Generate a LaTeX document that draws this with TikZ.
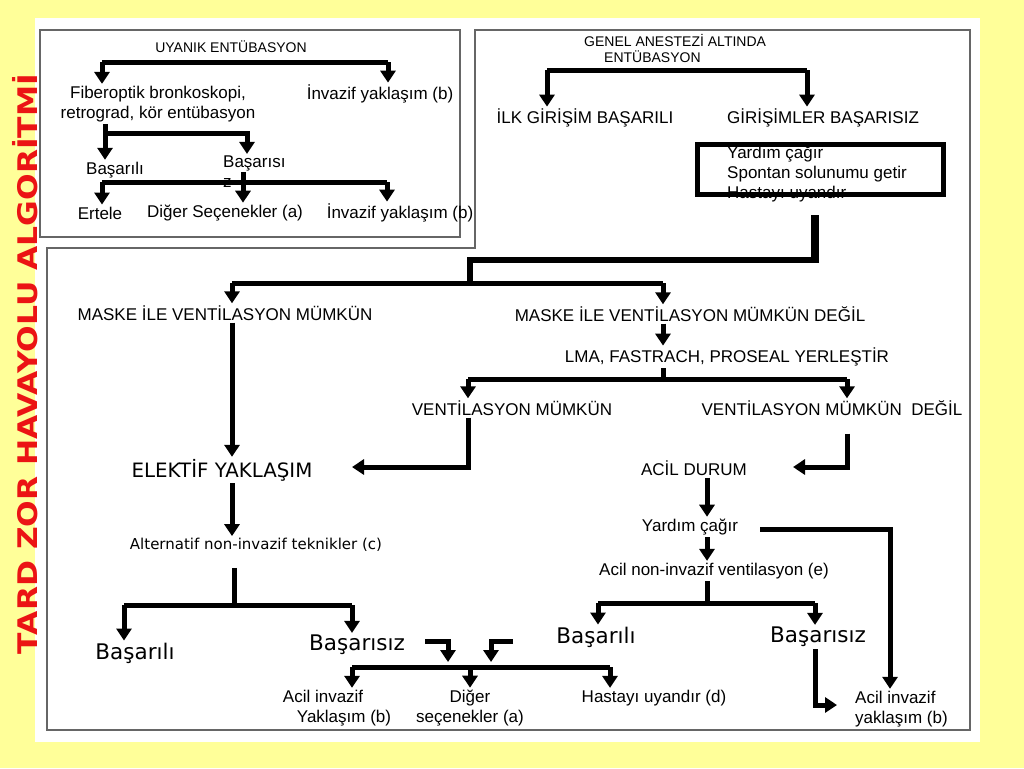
\documentclass[tikz,border=0pt]{standalone}
\usepackage{fontspec}
\setmainfont{Liberation Sans}
\newfontfamily\verdanalike{DejaVu Sans}
\usetikzlibrary{arrows.meta}
\definecolor{slideyellow}{RGB}{255,255,153}
\definecolor{titlered}{RGB}{235,20,20}
\begin{document}
\begin{tikzpicture}[x=1pt, y=-1pt,
    txt/.style={font=\fontsize{17}{20}\selectfont, inner sep=2pt},
    small/.style={font=\fontsize{14}{17}\selectfont, inner sep=1pt},
    mid/.style={font=\verdanalike\fontsize{19.8}{23}\selectfont, inner sep=2pt},
    alt/.style={font=\verdanalike\fontsize{15}{18}\selectfont, inner sep=2pt},
    big/.style={font=\verdanalike\fontsize{21.5}{25}\selectfont, inner sep=2pt},
    bar/.style={line width=5pt},
    flow/.style={line width=5pt, -{Triangle[width=15pt, length=12pt]}},
    frame/.style={draw=black!60, line width=1.3pt}]
        \useasboundingbox (0,0) rectangle (1024,768);
        % slide
        \fill[slideyellow] (0,0) rectangle (1024,768);
        \fill[white] (35,18) rectangle (980,742);
        \draw[frame] (40,30) rectangle (460,237);
        \draw[frame] (47,248) -- (475,248) -- (475,30) -- (970,30) -- (970,730) -- (47,730) -- cycle;
        \node[font=\verdanalike\bfseries\fontsize{27}{30}\selectfont, text=titlered, rotate=90] (title) at (25,364) {\scalebox{1.16}[1]{TARD ZOR HAVAYOLU ALGORİTMİ}};

        % awake intubation
        \node[small] (uyanik) at (231,47) {UYANIK ENTÜBASYON};
        \node[txt, align=center] (fiber) at (158,104) {Fiberoptik bronkoskopi,\\retrograd, kör entübasyon};
        \node[txt] (invazif1) at (380,94) {İnvazif yaklaşım (b)};
        \node[txt] (basarili1) at (115,170) {Başarılı};
        \node[txt, align=left, anchor=west] (basarisiz1) at (221,172) {Başarısı\\z};
        \node[txt] (ertele) at (100,213) {Ertele};
        \node[txt] (diger1) at (225,213) {Diğer Seçenekler (a)};
        \node[txt] (invazif2) at (400,213) {İnvazif yaklaşım (b)};

        \coordinate (u1) at (102,62);
        \coordinate (u2) at (388,62);
        \draw[bar] (u1) -- (u2);
        \draw[flow] (u1) -- (u1 |- fiber.north);
        \draw[flow] (u2) -- (u2 |- invazif1.north);
        \coordinate (f1) at (105,133);
        \coordinate (f2) at (247,133);
        \draw[flow] (fiber.south -| f1) -- (f1 |- basarili1.north);
        \draw[flow] (f1) -- (f2) -- (f2 |- basarisiz1.north);
        \coordinate (b1) at (102,182);
        \coordinate (b2) at (243,182);
        \coordinate (b3) at (387,182);
        \draw[bar] (b1) -- (b3);
        \draw[flow] (b1) -- (b1 |- ertele.north);
        \draw[flow] (b2 |- basarisiz1) -- (b2 |- diger1.north);
        \draw[flow] (b3) -- (b3 |- invazif2.north);

        % general anaesthesia
        \node[small, anchor=west] (genel1) at (583,40) {GENEL ANESTEZİ ALTINDA};
        \node[small, anchor=west] (genel2) at (603,57) {ENTÜBASYON};
        \node[txt] (ilk) at (585,118) {İLK GİRİŞİM BAŞARILI};
        \node[txt] (girisim) at (823,118) {GİRİŞİMLER BAŞARISIZ};
        \node[txt, align=left, anchor=north west, inner sep=0pt] (yardim1) at (727,146) {Yardım çağır\\Spontan solunumu getir\\Hastayı uyandır};
        \node[draw, line width=5pt, minimum width=246pt, minimum height=50pt, inner sep=0pt] (ybox) at (820,169.5) {};

        \coordinate (g1) at (547,70);
        \coordinate (g2) at (807,70);
        \draw[bar] (g1) -- (g2);
        \draw[flow] (g1) -- (g1 |- ilk.north);
        \draw[flow] (g2) -- (g2 |- girisim.north);
        \coordinate (k1) at (815,260);
        \coordinate (k2) at (470,260);
        \coordinate (m1) at (232,283);
        \coordinate (m2) at (663,283);
        \draw[bar, line width=8pt] (ybox.south -| k1) ++(0,18) -- ([yshift=-3pt]k1);
        \draw[bar, line width=6pt] ([xshift=4pt]k1) -- (k2) -- (k2 |- m1);
        \draw[bar] (m1) -- (m2);

        % mask ventilation
        \node[txt] (maske1) at (225,313) {MASKE İLE VENTİLASYON MÜMKÜN};
        \node[txt] (maske2) at (690,314) {MASKE İLE VENTİLASYON MÜMKÜN DEĞİL};
        \node[txt] (lma) at (727,357) {LMA, FASTRACH, PROSEAL YERLEŞTİR};
        \node[txt] (vent1) at (512,408) {VENTİLASYON MÜMKÜN};
        \node[txt] (vent2) at (832,408) {VENTİLASYON MÜMKÜN \ DEĞİL};
        \node[mid] (elektif) at (222,470) {ELEKTİF YAKLAŞIM};
        \node[alt] (alternatif) at (256,545) {Alternatif non-invazif teknikler (c)};

        \draw[flow] (m1) -- (m1 |- maske1.north);
        \draw[flow] (m2) -- (m2 |- maske2.north);
        \draw[flow] (maske2.south -| m2) -- (m2 |- lma.north);
        \coordinate (n1) at (468,379);
        \coordinate (n2) at (847,379);
        \draw[bar] (lma.south -| m2) -- (m2 |- n1);
        \draw[bar] (n1) -- (n2);
        \draw[flow] (n1) -- (n1 |- vent1.north);
        \draw[flow] (n2) -- (n2 |- vent2.north);
        \coordinate (e1) at (352,467);
        \draw[flow] (vent1.south -| n1) |- (e1);
        \draw[flow] (maske1.south -| m1) -- (m1 |- elektif.north);
        \draw[flow] (elektif.south -| m1) -- (m1 |- alternatif.north);

        % emergency
        \node[txt] (acil) at (694,468) {ACİL DURUM};
        \node[txt] (yardim2) at (690,527) {Yardım çağır};
        \node[txt] (nonivz) at (714,571) {Acil non-invazif ventilasyon (e)};
        \node[big] (basarili3) at (596,637) {Başarılı};
        \node[big] (basarisiz3) at (818,637) {Başarısız};
        \node[txt, align=left, anchor=west] (acilr) at (853,709) {Acil invazif\\yaklaşım (b)};

        \coordinate (e2) at (793,467);
        \draw[flow] (vent2.south -| n2) ++(0,16) |- (e2);
        \coordinate (r1) at (707,603);
        \coordinate (r2) at (598,603);
        \coordinate (r3) at (815,603);
        \draw[flow] (acil.south -| r1) -- (r1 |- yardim2.north);
        \draw[flow] (yardim2.south -| r1) -- (r1 |- nonivz.north);
        \draw[bar] (nonivz.south -| r1) -- (r1);
        \draw[bar] (r2) -- (r3);
        \draw[flow] (r2) -- (r2 |- basarili3.north);
        \draw[flow] (r3) -- (r3 |- basarisiz3.north);
        \coordinate (t1) at (837,705);
        \draw[flow] (basarisiz3.south -| r3) |- (t1);
        \coordinate (y1) at (890,529);
        \draw[flow] (yardim2.east) ++(20,2) -| (y1 |- acilr.north);

        % alternatives
        \node[big] (basarili2) at (135,653) {Başarılı};
        \node[big] (basarisiz2) at (357,645) {Başarısız};
        \node[txt, align=left] (acil2) at (337,708) {Acil invazif\\\hspace*{14pt}Yaklaşım (b)};
        \node[txt, align=center] (diger2) at (470,708) {Diğer\\seçenekler (a)};
        \node[txt] (hasta) at (654,698) {Hastayı uyandır (d)};

        \coordinate (p0) at (234,605);
        \coordinate (p1) at (124,605);
        \coordinate (p2) at (352,605);
        \draw[bar] (alternatif.south -| p0) ++(0,14) -- (p0);
        \draw[bar] (p1) -- (p2);
        \draw[flow] (p1) -- (p1 |- basarili2.north);
        \draw[flow] (p2) -- (p2 |- basarisiz2.north);
        \coordinate (q1) at (352,667);
        \coordinate (q2) at (470,667);
        \coordinate (q3) at (610,667);
        \draw[bar] (q1) -- (q3);
        \draw[flow] (q1) -- (q1 |- acil2.north);
        \draw[flow] (q2) -- (q2 |- diger2.north);
        \draw[flow] (q3) -- (q3 |- hasta.north);
        \coordinate (w1) at (425,641);
        \coordinate (w1t) at (448,662);
        \coordinate (w2) at (513,641);
        \coordinate (w2t) at (491,662);
        \draw[flow] (w1) -| (w1t);
        \draw[flow] (w2) -| (w2t);
    \end{tikzpicture}
\end{document}
